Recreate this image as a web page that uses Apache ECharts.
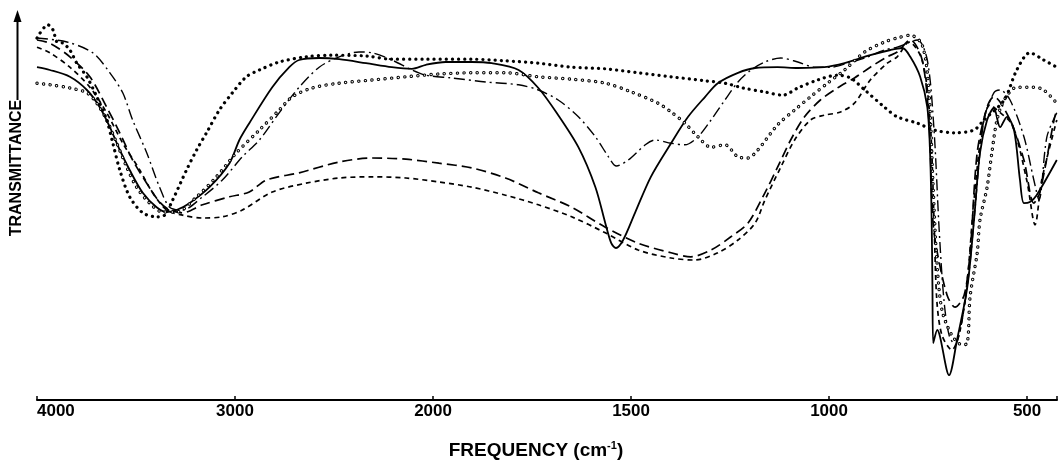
<!DOCTYPE html>
<html>
<head>
<meta charset="utf-8">
<script src="https://cdn.jsdelivr.net/npm/echarts@6/dist/echarts.min.js"></script>
<style>
  html, body { margin: 0; padding: 0; background: #fff; }
  #chart { width: 1060px; height: 460px; }
</style>
</head>
<body>
<div id="chart"></div>
<script>
// IR spectra, transmittance (arbitrary units) vs frequency (cm-1)
var freqTicks = [4000, 3000, 2000, 1500, 1000, 500];

var solid = [[4000,83.2],[3935,82.5],[3834,80.8],[3748,77.5],[3683,73.2],[3632,68.2],[3582,62.5],[3532,57.5],[3466,51.8],[3396,48.2],[3345,47],[3295,47.5],[3230,49.2],[3129,53.2],[3028,59.2],[2978,65],[2928,69.2],[2812,78.2],[2726,83.2],[2676,85],[2575,85.5],[2474,85.2],[2338,84.2],[2208,83.2],[2107,82.8],[2036,83.8],[1968,84.5],[1902,84.5],[1852,84.2],[1784,82.5],[1734,78],[1688,71.8],[1633,63.2],[1590,53.2],[1565,44.2],[1550,39.2],[1538,38],[1520,40],[1490,46.8],[1450,55.8],[1399,64.2],[1356,70.8],[1313,75.8],[1281,79.2],[1230,81.8],[1187,83],[1130,83.2],[1079,83],[1012,83.2],[961,84.2],[896,86.2],[845,87.5],[815,88],[795,85.8],[770,80.8],[752,73.2],[745,61.8],[741,45],[739,28.2],[737,14.2],[727,17.5],[697,6.2],[677,15],[651,28.2],[634,45],[619,61.8],[601,70],[584,73],[568,68.2],[551,70.8],[533,67.5],[518,55],[508,49.2],[493,49.5],[476,51.2],[425,60]];

var longDash = [[4000,90],[3935,89.2],[3834,85.8],[3733,80.8],[3648,73.2],[3582,66.8],[3517,60],[3446,54.2],[3381,49.5],[3330,47.5],[3265,46.8],[3164,48.8],[3028,50.8],[2928,52],[2842,55],[2676,56.8],[2474,59.5],[2308,60.5],[2137,60.2],[1985,59.2],[1902,58],[1817,55.5],[1734,51.8],[1650,48.2],[1565,43.2],[1482,39.2],[1399,36.8],[1349,35.8],[1298,37.5],[1248,40.8],[1205,44.2],[1162,51.8],[1130,58.2],[1097,65],[1062,70.8],[1022,75],[979,78],[936,80.5],[896,83.2],[853,85.8],[828,87],[795,90],[765,85],[748,70],[738,45],[728,37.5],[702,26.2],[682,23.2],[659,26.2],[644,36.8],[626,61.8],[601,73.2],[584,75.8],[543,70],[508,60],[483,49.2],[468,51.8],[432,70],[425,72.5]];

var shortDash = [[4000,88.2],[3935,86.8],[3834,83.2],[3733,78.2],[3648,71.8],[3567,64.2],[3481,57.5],[3416,51.8],[3345,47.5],[3265,46.2],[3164,45.5],[3064,45.8],[2963,47.5],[2812,52],[2641,54.2],[2474,55.5],[2308,55.8],[2137,55.5],[1985,54.5],[1902,53.2],[1817,51.2],[1734,48.8],[1650,45.8],[1565,41.8],[1482,37.5],[1399,35.5],[1339,35],[1281,36.8],[1230,40],[1187,44.2],[1162,50],[1122,58.2],[1087,65],[1047,70],[1012,71.2],[971,72],[936,74.2],[896,80],[853,84.2],[828,85.8],[798,89.5],[765,85],[745,70],[735,45],[728,25],[715,16.2],[690,12.5],[669,17.5],[651,30],[634,50],[614,67.5],[594,73.8],[576,72.5],[538,68.8],[501,55],[480,43.8],[463,55],[425,70]];

var dashDot = [[4000,90.5],[3849,89.5],[3718,86.8],[3632,81.8],[3567,76.8],[3517,70],[3446,61.8],[3381,53.2],[3330,48.2],[3265,47.5],[3164,50.8],[3064,55],[2963,60.8],[2877,65],[2777,71.8],[2676,78.2],[2575,83.2],[2474,85.8],[2374,87],[2308,86.8],[2208,85],[2107,82.5],[2036,81.2],[1952,80.5],[1867,79.5],[1784,78.8],[1734,77.5],[1684,75],[1633,70.8],[1590,65.8],[1557,60.8],[1537,58.5],[1507,60],[1464,63.8],[1439,65],[1399,64.2],[1364,63.8],[1331,65.8],[1298,70],[1263,75],[1230,79.5],[1197,82.5],[1162,84.5],[1122,85.5],[1079,84.5],[1036,83.2],[996,83.2],[953,84.2],[910,85.5],[860,87.5],[828,88.2],[777,90],[752,85],[735,67.5],[722,42.5],[710,25],[697,16.2],[682,13.8],[664,20],[646,32.5],[634,45],[609,70],[584,76.8],[568,77.5],[543,75],[508,65.8],[483,55],[470,50],[450,65.8],[425,71.8]];

var circles = [[4000,79.2],[3935,78.8],[3834,78],[3748,76.8],[3698,74.2],[3648,70],[3597,64.2],[3547,58.2],[3497,53.2],[3431,49.2],[3366,47],[3295,47],[3194,50.8],[3094,55.8],[2993,61.8],[2877,67.5],[2777,72.5],[2711,75.8],[2610,78],[2474,79.2],[2308,80],[2137,80.8],[1985,81.5],[1902,81.8],[1817,81.8],[1734,80.8],[1650,80.2],[1565,79.2],[1499,77],[1432,74.2],[1399,72],[1364,69.2],[1331,65.8],[1298,63.2],[1263,63.8],[1230,60.8],[1205,60.5],[1180,62.5],[1130,68.8],[1087,72.5],[1047,75.8],[1004,79.2],[961,82.5],[910,87],[860,89.5],[828,90.5],[795,91.2],[765,88.8],[748,77.5],[738,55],[728,35],[715,22.5],[690,16.2],[664,13.8],[651,14.2],[644,25.8],[626,36.8],[619,45],[601,53.2],[589,61.8],[576,70],[558,75],[526,78.2],[483,78.2],[458,77.5],[425,74.2]];

var crosses = [[4000,90.5],[3945,93.8],[3919,92.5],[3899,89.5],[3869,89.2],[3834,87.5],[3799,84.2],[3748,80.8],[3698,75.8],[3648,70],[3617,64.2],[3582,57.5],[3532,50.8],[3466,46.8],[3396,45.8],[3356,46.2],[3315,50],[3245,57.5],[3194,62.5],[3144,66.8],[3079,72.5],[3013,76.8],[2943,80.8],[2877,82.5],[2777,84.5],[2641,85.8],[2510,86.2],[2338,86],[2208,85.2],[2036,85.2],[1902,85.2],[1817,84.8],[1734,84.2],[1650,83.2],[1565,82.8],[1482,81.8],[1399,80.8],[1313,79.8],[1263,79.2],[1217,78],[1162,77],[1117,76.2],[1079,78],[1029,80],[979,81.2],[946,80.5],[910,77.5],[860,73.2],[828,70.8],[777,69.2],[735,67.5],[684,66.8],[634,67.5],[609,70],[558,75],[526,82.5],[493,86.8],[458,85],[425,83.2]];

// spectrometer chart paper: scale changes at 2000 cm-1 (1000/div above, 500/div below)
function freqToPos(f) {
    return f >= 2000 ? (4000 - f) / 1000 : 2 + (2000 - f) / 500;
}
function toXY(arr) {
    return arr.map(function(p) { return [freqToPos(p[0]), p[1]]; });
}

var FONT = '"Liberation Sans", Arial, sans-serif';
var chart = echarts.init(document.getElementById('chart'), null, { renderer: 'canvas' });

function lineSeries(name, data, style, z) {
    return {
        name: name,
        type: 'line',
        data: toXY(data),
        showSymbol: false,
        smooth: 0.3,
        z: z || 2,
        silent: true,
        lineStyle: style
    };
}

chart.setOption({
    animation: false,
    backgroundColor: '#fff',
    grid: { left: 37, right: 0, top: 20, bottom: 60 },
    xAxis: {
        type: 'value',
        min: 0,
        max: 5.151,
        interval: 1,
        axisLine: { lineStyle: { color: '#000', width: 2 } },
        axisTick: { inside: true, length: 4, lineStyle: { color: '#000', width: 1.5 } },
        splitLine: { show: false },
        axisLabel: {
            formatter: function(v) { return freqTicks[v] !== undefined ? String(freqTicks[v]) : ''; },
            color: '#000', fontWeight: 'bold', fontSize: 17, fontFamily: FONT,
            margin: 3, alignMinLabel: 'left'
        }
    },
    yAxis: {
        type: 'value', min: 0, max: 95,
        show: false
    },
    graphic: [
        {
            type: 'text', x: 17, y: 168, rotation: Math.PI / 2,
            style: { text: 'TRANSMITTANCE', font: 'bold 16px ' + FONT, fill: '#000', align: 'center', verticalAlign: 'middle' }
        },
        { type: 'line', shape: { x1: 17.5, y1: 100, x2: 17.5, y2: 20 }, style: { stroke: '#000', lineWidth: 2 } },
        { type: 'polygon', shape: { points: [[17.5, 10], [13.5, 22], [21.5, 22]] }, style: { fill: '#000' } },
        {
            type: 'text', x: 536, y: 451,
            style: {
                text: '{a|FREQUENCY (cm}{s|-1}{a|)}',
                align: 'center', verticalAlign: 'middle',
                rich: {
                    a: { font: 'bold 19px ' + FONT, fill: '#000', lineHeight: 22 },
                    s: { font: 'bold 11px ' + FONT, fill: '#000', lineHeight: 11, verticalAlign: 'top' }
                }
            }
        }
    ],
    series: [
        lineSeries('solid', solid, { color: '#000', width: 1.8 }),
        lineSeries('longDash', longDash, { color: '#000', width: 1.7, type: [10, 5] }),
        lineSeries('shortDash', shortDash, { color: '#000', width: 1.7, type: [5, 4] }),
        lineSeries('dashDot', dashDot, { color: '#000', width: 1.4, type: [11, 4, 2, 4] }),
        lineSeries('circles', circles, { color: '#000', width: 3.4, type: [0.1, 6.5], cap: 'round' }, 3),
        lineSeries('circlesFill', circles, { color: '#fff', width: 1.4, type: [0.1, 6.5], cap: 'round' }, 4),
        lineSeries('crosses', crosses, { color: '#000', width: 3.2, type: [0.1, 6], cap: 'round' }, 5)
    ]
});
</script>
</body>
</html>
